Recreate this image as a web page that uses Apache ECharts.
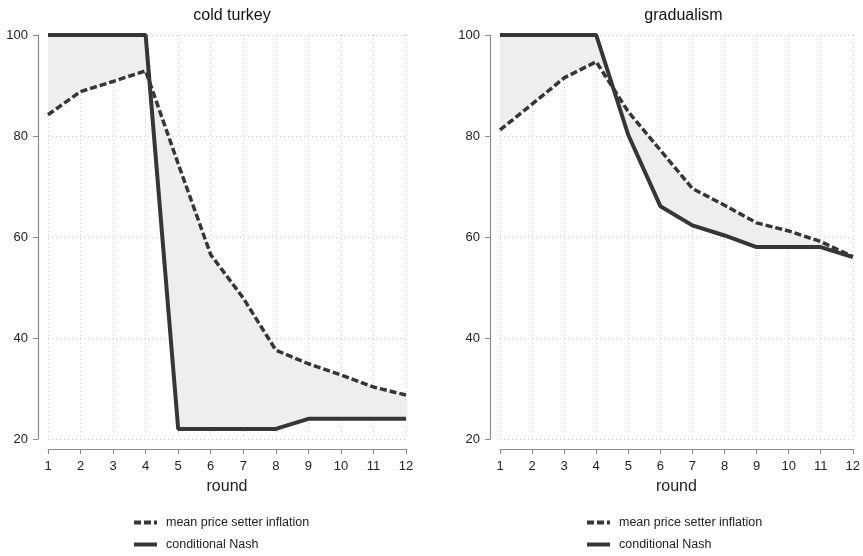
<!DOCTYPE html>
<html><head><meta charset="utf-8">
<script src="https://cdn.jsdelivr.net/npm/echarts@6/dist/echarts.min.js"></script>
<style>html,body{margin:0;padding:0;background:#fff}#c{width:863px;height:556px}</style>
</head><body><div id="c"></div>
<script>
const rounds = [1,2,3,4,5,6,7,8,9,10,11,12];
const yTicks = [20,40,60,80,100];
const panelTitles = ['cold turkey','gradualism'];
const seriesNames = ['mean price setter inflation','conditional Nash'];
const ctMean = [84.2, 88.8, 90.8, 92.9, 74.5, 56.5, 47.9, 37.6, 34.9, 32.7, 30.3, 28.7];
const ctNash = [100, 100, 100, 100, 22, 22, 22, 22, 24, 24, 24, 24];
const grMean = [81.2, 86.3, 91.5, 94.7, 84.8, 77.2, 69.6, 66.3, 62.8, 61.2, 59.1, 56.1];
const grNash = [100, 100, 100, 100, 80.2, 66.1, 62.3, 60.3, 58, 58, 58, 56];

const FONT = '"Liberation Sans", Arial, sans-serif';
const LINE = '#363636';
const AXIS = '#8a8a8a';
const panels = [{mean: ctMean, nash: ctNash}, {mean: grMean, nash: grNash}];

function pairs(vals){ return rounds.map((r,i)=>[r, vals[i]]); }

const grids = [
  {left: 48, width: 358, top: 35, height: 404},
  {left: 500, width: 357, top: 35, height: 404}
];
const xAxes = [], yAxes = [], series = [], titles = [], legends = [];
panels.forEach((p, k) => {
  xAxes.push({
    gridIndex: k, type: 'value', min: 1, max: 12, interval: 1, offset: 10,
    name: 'round', nameLocation: 'middle', nameGap: 30,
    nameTextStyle: {fontFamily: FONT, fontSize: 16, color: '#222'},
    axisLine: {lineStyle: {color: AXIS, width: 1.2}},
    axisTick: {length: 5, lineStyle: {color: AXIS}},
    axisLabel: {margin: 11, fontFamily: FONT, fontSize: 13, color: '#222'},
    splitLine: {show: true, lineStyle: {color: '#cfcfcf', type: [1, 3], width: 1}}
  });
  yAxes.push({
    gridIndex: k, type: 'value', min: yTicks[0], max: yTicks[yTicks.length-1], interval: 20, offset: 10,
    axisLine: {show: true, lineStyle: {color: AXIS, width: 1.2}},
    axisTick: {show: true, length: 5, lineStyle: {color: AXIS}},
    axisLabel: {margin: 10, fontFamily: FONT, fontSize: 13, color: '#222'},
    splitLine: {show: true, lineStyle: {color: '#cfcfcf', type: [1, 3], width: 1}}
  });
  const cx = grids[k].left + grids[k].width/2;
  titles.push({text: panelTitles[k], left: cx, top: 3, textAlign: 'center',
    textStyle: {fontFamily: FONT, fontSize: 16, fontWeight: 'normal', color: '#111'}});
  series.push({
    type: 'custom', xAxisIndex: k, yAxisIndex: k, silent: true, z: 1,
    data: [[rounds[0], p.mean[0]]],
    renderItem: function(params, api){
      const pts = [];
      rounds.forEach((r,i)=>pts.push(api.coord([r, p.mean[i]])));
      for (let i = rounds.length-1; i >= 0; i--) pts.push(api.coord([rounds[i], p.nash[i]]));
      return {type: 'polygon', shape: {points: pts}, style: {fill: '#eeeeee'}};
    }
  });
  series.push({
    name: seriesNames[0], type: 'line', xAxisIndex: k, yAxisIndex: k, z: 3,
    data: pairs(p.mean), symbol: 'none', smooth: false,
    lineStyle: {color: LINE, width: 3.5, type: [7, 3]}, itemStyle: {color: LINE}
  });
  series.push({
    name: seriesNames[1], type: 'line', xAxisIndex: k, yAxisIndex: k, z: 4,
    data: pairs(p.nash), symbol: 'none',
    lineStyle: {color: LINE, width: 4}, itemStyle: {color: LINE}
  });
  seriesNames.forEach((nm, j) => {
    legends.push({
      data: [nm], left: k === 0 ? 127 : 580, top: 511 + j*22,
      itemWidth: 23, itemHeight: 14, selectedMode: false,
      itemStyle: {opacity: 0},
      lineStyle: {width: 4},
      textStyle: {fontFamily: FONT, fontSize: 12.5, color: '#222', padding: [0,0,0,4]}
    });
  });
});

const chart = echarts.init(document.getElementById('c'), null, {renderer: 'canvas'});
chart.setOption({
  animation: false,
  backgroundColor: '#fff',
  title: titles,
  legend: legends,
  grid: grids,
  xAxis: xAxes,
  yAxis: yAxes,
  series: series
});
</script></body></html>
